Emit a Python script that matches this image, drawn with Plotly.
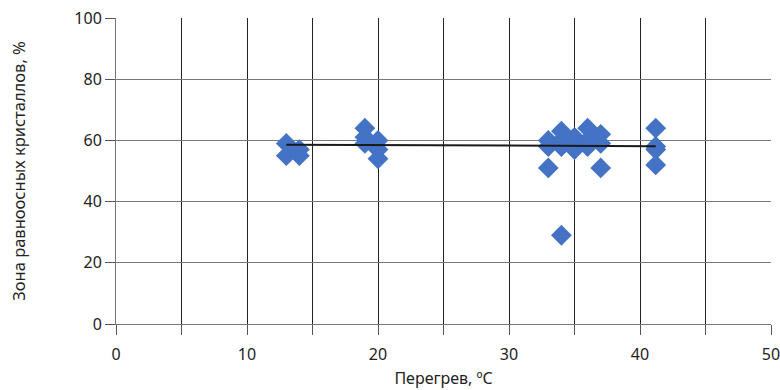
import plotly.graph_objects as go

# Data
superheat = [13, 13, 14, 14,
             19, 19, 19, 20, 20, 20,
             33, 33, 33, 34, 34, 34, 34, 35, 35, 35, 36, 36, 36, 37, 37, 37,
             41.2, 41.2, 41.2, 41.2]
equiaxed_zone = [59, 55, 57, 55,
                 64, 61, 59, 60, 57, 54,
                 60, 58, 51, 63, 60, 58, 29, 61, 59, 57, 64, 60, 58, 62, 59, 51,
                 64, 58, 57, 52]
trend_x = [13, 41.2]
trend_y = [58.6, 58.1]

x_ticks = [0, 5, 10, 15, 20, 25, 30, 35, 40, 45, 50]
x_tick_text = ["0", "", "10", "", "20", "", "30", "", "40", "", "50"]
y_ticks = [0, 20, 40, 60, 80, 100]

fig = go.Figure()
fig.add_trace(go.Scatter(
    x=superheat, y=equiaxed_zone, mode="markers",
    marker=dict(symbol="diamond", size=16, color="#4472C4", line=dict(width=0)),
    showlegend=False, cliponaxis=False))
fig.add_trace(go.Scatter(
    x=trend_x, y=trend_y, mode="lines",
    line=dict(color="#1a1a1a", width=2), showlegend=False))

font = dict(family="Noto Sans, Open Sans, sans-serif", size=16, color="#222")
fig.update_layout(
    width=780, height=390,
    margin=dict(l=116, r=9, t=18, b=66, autoexpand=False),
    paper_bgcolor="white", plot_bgcolor="white",
    font=font,
    xaxis=dict(range=[0, 50], tickvals=x_ticks, ticktext=x_tick_text,
               automargin=False, ticklabeloverflow="allow",
               showgrid=True, gridcolor="#222", gridwidth=1,
               showline=True, linecolor="#777", linewidth=1,
               ticks="outside", ticklen=10, tickcolor="#555",
               ticklabelstandoff=6, zeroline=False,
               title=dict(text="Перегрев, ºC", standoff=8, font=font)),
    yaxis=dict(range=[0, 100], tickvals=y_ticks,
               automargin=False, ticklabeloverflow="allow",
               showgrid=True, gridcolor="#777", gridwidth=1,
               showline=True, linecolor="#777", linewidth=1,
               ticks="outside", ticklen=10, tickcolor="#555",
               zeroline=False,
               title=dict(text="Зона равноосных кристаллов, %", standoff=44,
                          font=dict(family=font["family"], size=16.5, color="#222"))),
)
fig.write_html("out.html", config={"displayModeBar": False},
               post_script="document.body.style.margin='0';document.body.style.overflow='hidden';")
